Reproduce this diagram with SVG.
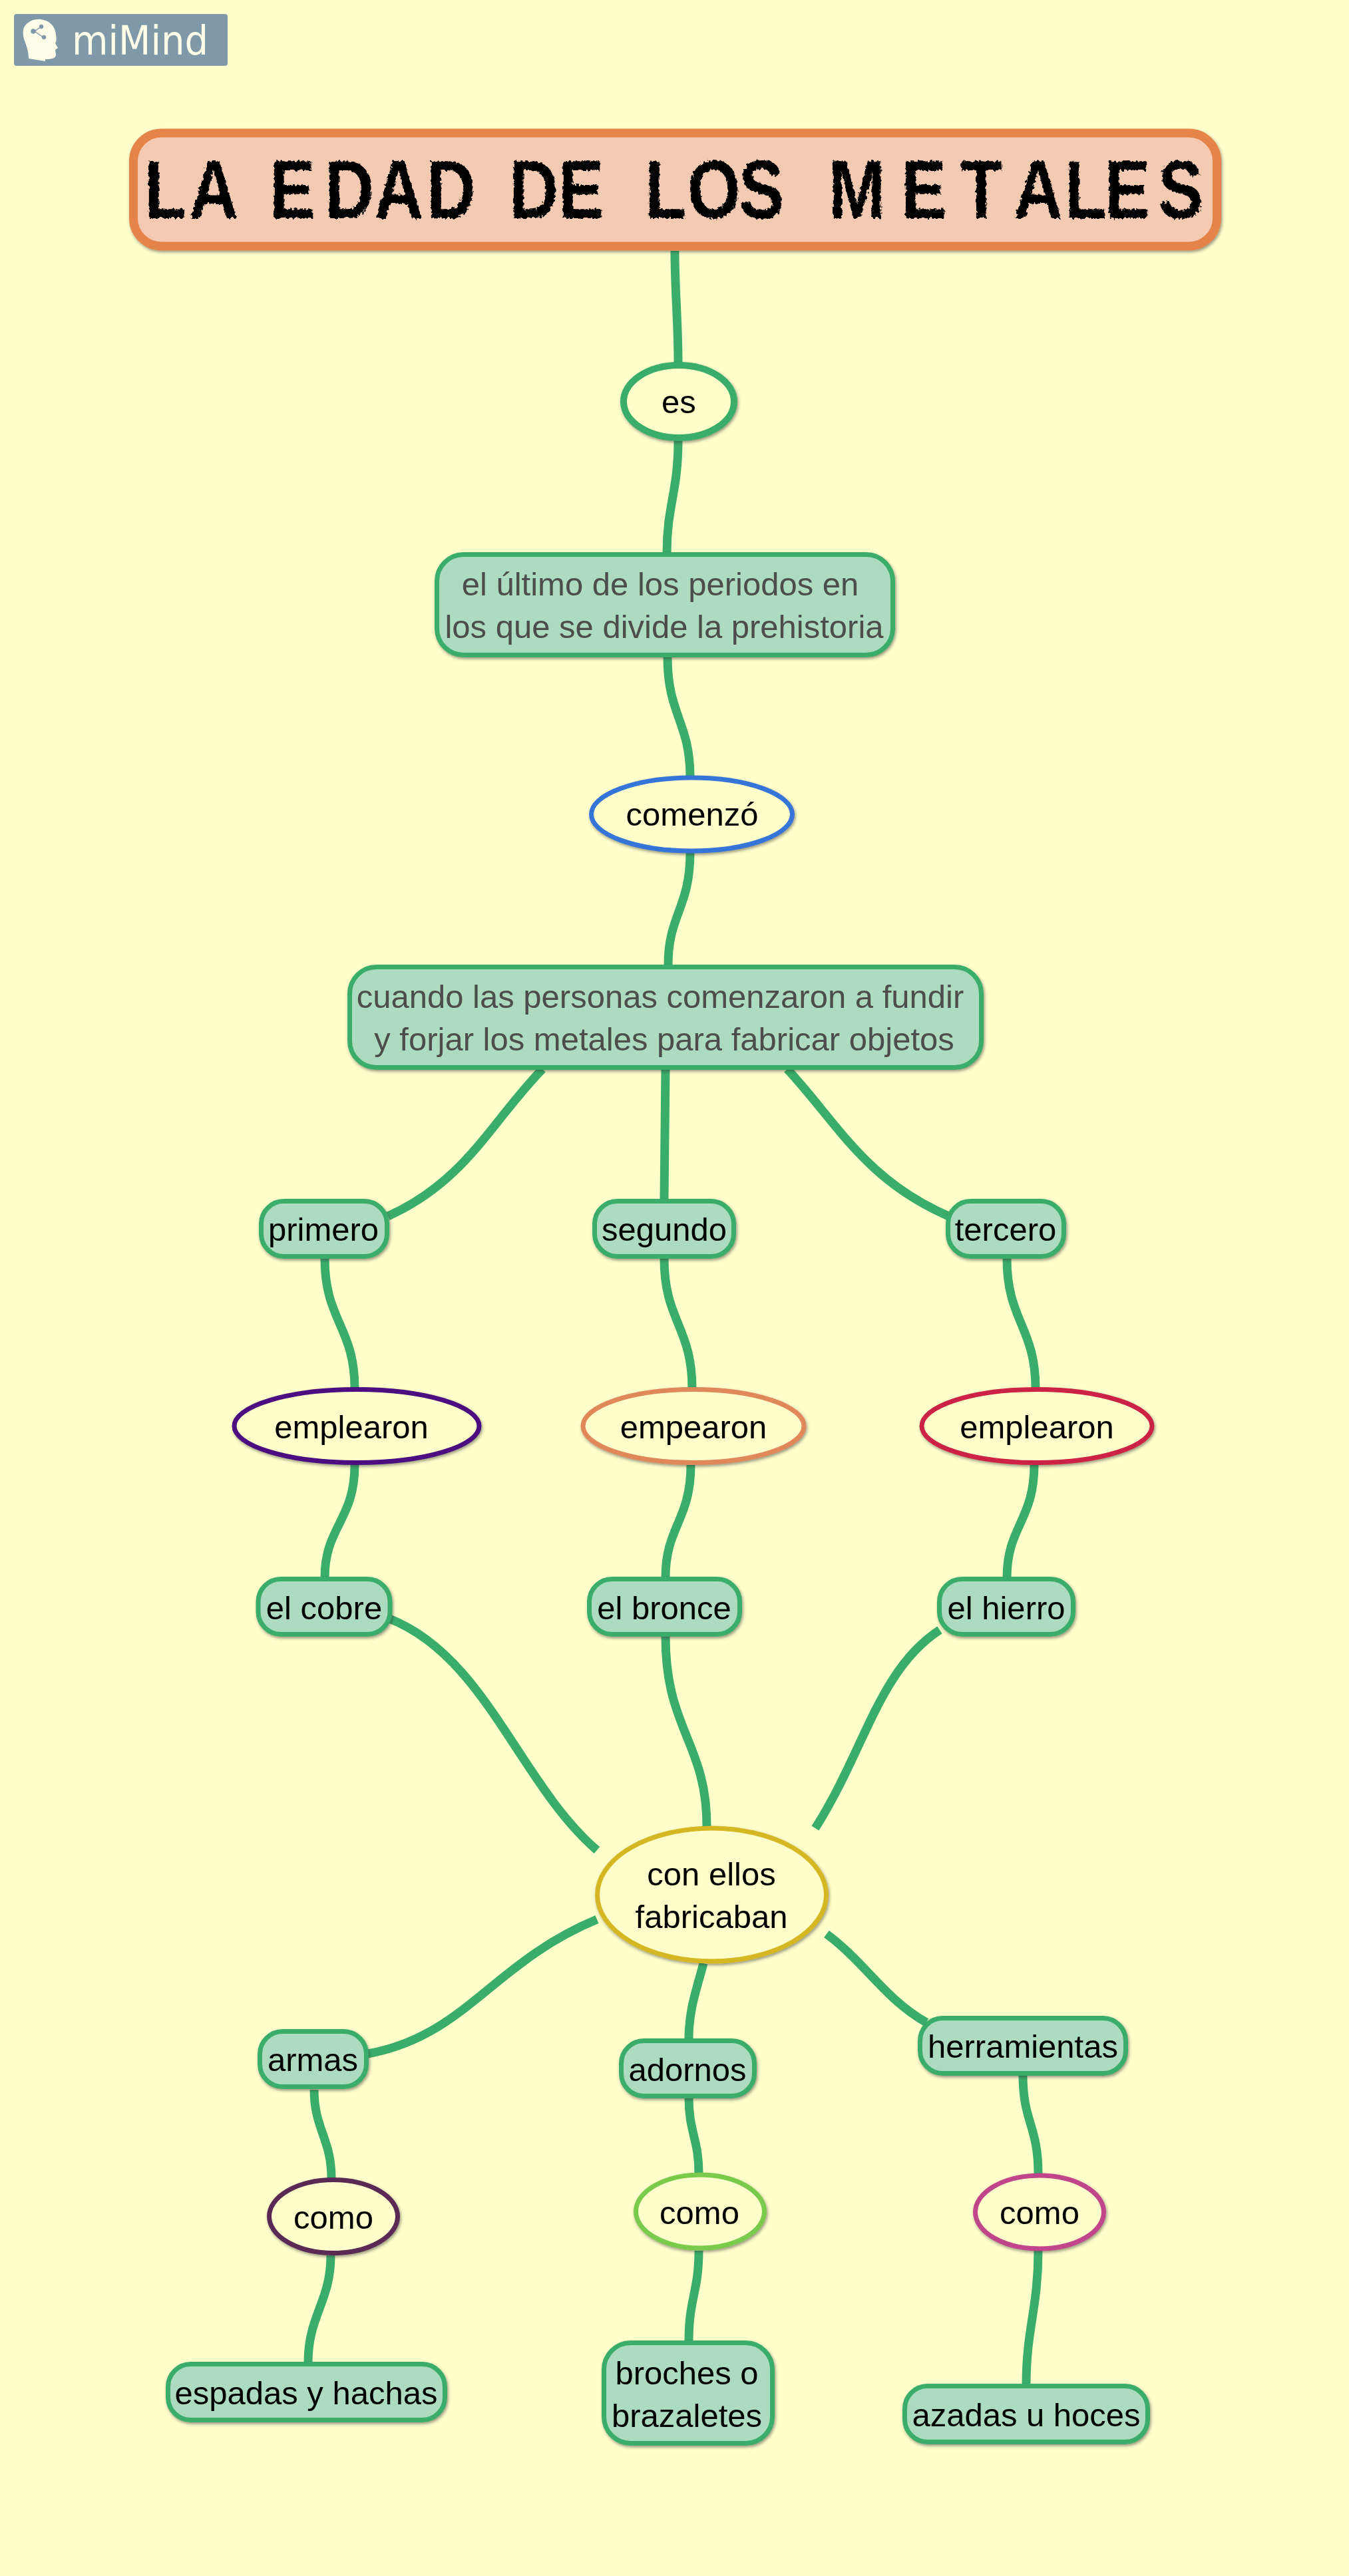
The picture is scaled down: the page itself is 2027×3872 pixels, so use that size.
<svg xmlns="http://www.w3.org/2000/svg" width="2027" height="3872" viewBox="0 0 2027 3872">
<defs>
<filter id="sh" x="-10%" y="-10%" width="120%" height="125%"><feDropShadow dx="1.500" dy="2.500" stdDeviation="2" flood-color="#333" flood-opacity="0.5"/></filter>
<filter id="rough" x="-2%" y="-5%" width="104%" height="110%"><feTurbulence type="fractalNoise" baseFrequency="0.2" numOctaves="2" seed="4"/><feDisplacementMap in="SourceGraphic" scale="8"/></filter>
</defs>
<style>
text{font-family:"Liberation Sans",Arial,sans-serif;font-size:49px;fill:#000;text-anchor:middle}
.g{fill:#4d4d4d}
.r{fill:#ADDBBF;stroke:#3BAD6B;stroke-width:7;filter:url(#sh)}
.e{fill:#FFFFCC;stroke-width:7;filter:url(#sh)}
#connectors path{fill:none;stroke:#3BAD6B;stroke-width:13}
</style>
<rect width="2027" height="3872" fill="#FFFFCC"/>
<g id="logo">
<rect x="21" y="21" width="321" height="78" rx="4" fill="#8099A8"/>
<path d="M58,29C72,29 83,38 84,52C85,58 85,62 83,65L87,72L83,75L84,82C84,87 80,88 73,89L68,89L68,92L43,88C43,80 41,72 38,64C35,58 34,50 35,44C38,35 47,29 58,29Z" fill="#FFFDE8"/>
<g stroke="#8099A8" stroke-width="1.500" fill="#8099A8"><path d="M62,40L52,47L65,56" fill="none"/><circle cx="62" cy="40" r="2.500"/><circle cx="50" cy="47" r="3"/><circle cx="66" cy="56" r="2.500"/></g>
<text x="108" y="82" textLength="205" lengthAdjust="spacingAndGlyphs" style="font-family:'DejaVu Sans',sans-serif;font-size:60px;text-anchor:start;fill:#FFFDE8">miMind</text>
</g>
<g id="connectors">
<path d="M1014,377C1014,440 1019,480 1019,546"/>
<path d="M1019,662C1019,740 1002,760 1002,832"/>
<path d="M1003,988C1003,1075 1037,1085 1037,1168"/>
<path d="M1037,1281C1037,1365 1004,1375 1004,1450"/>
<path d="M815,1607C735,1690 700,1775 583,1828"/>
<path d="M1000,1607L998,1802"/>
<path d="M1183,1607C1260,1690 1300,1775 1430,1830"/>
<path d="M488,1892C488,1985 533,1995 533,2087"/>
<path d="M533,2202C533,2285 488,2295 488,2371"/>
<path d="M998,1892C998,1985 1040,1995 1040,2087"/>
<path d="M1038,2202C1038,2285 1000,2295 1000,2371"/>
<path d="M1513,1892C1513,1985 1556,1995 1556,2087"/>
<path d="M1554,2202C1554,2285 1513,2295 1513,2371"/>
<path d="M585,2433C730,2490 780,2680 897,2781"/>
<path d="M1000,2460C1000,2600 1062,2620 1062,2745"/>
<path d="M1412,2450C1320,2510 1300,2630 1225,2748"/>
<path d="M897,2885C740,2950 700,3060 553,3087"/>
<path d="M1057,2951C1047,2990 1035,3020 1035,3064"/>
<path d="M1242,2907C1300,2950 1330,3005 1392,3040"/>
<path d="M472,3141C472,3200 498,3215 498,3274"/>
<path d="M497,3390C497,3460 463,3480 463,3551"/>
<path d="M1035,3153C1035,3205 1050,3215 1050,3267"/>
<path d="M1050,3383C1050,3445 1035,3455 1035,3519"/>
<path d="M1537,3119C1537,3190 1560,3195 1560,3267"/>
<path d="M1560,3383C1560,3470 1542,3500 1542,3585"/>
</g>
<g id="n-title"><rect x="200.500" y="200" width="1628" height="170" rx="42" fill="#F4CBB2" stroke="#E58449" stroke-width="13" filter="url(#sh)"/>
<text filter="url(#rough)" transform="scale(0.82,1)" y="328" x="264.600 346.300 440 493.900 595.100 685.400 781.700 900 932.900 1023.200 1100 1181.700 1259.800 1353.700 1480 1518.300 1651.200 1759.800 1857.300 1951.200 2024.400 2122" style="font-weight:bold;font-size:125px;text-anchor:start">LA EDAD DE LOS METALES</text></g>
<g id="n-es"><ellipse class="e" style="stroke-width:10" cx="1020" cy="603.500" rx="83" ry="54.500" stroke="#3BAD6B"/><text x="1020" y="621">es</text></g>
<g id="n-ultimo"><rect class="r" x="656.500" y="833.500" width="685" height="151" rx="40"/><text class="g" x="992" y="895">el último de los periodos en</text><text class="g" x="998" y="959">los que se divide la prehistoria</text></g>
<g id="n-comenzo"><ellipse class="e" cx="1039.500" cy="1224" rx="151" ry="55" stroke="#3574D8"/><text x="1040" y="1241">comenzó</text></g>
<g id="n-cuando"><rect class="r" x="525.500" y="1453.500" width="949" height="151" rx="40"/><text class="g" x="992" y="1515">cuando las personas comenzaron a fundir</text><text class="g" x="998" y="1579">y forjar los metales para fabricar objetos</text></g>
<g id="n-primero"><rect class="r" x="392.500" y="1805.500" width="189" height="83" rx="34"/><text x="486" y="1865">primero</text></g>
<g id="n-segundo"><rect class="r" x="893.500" y="1805.500" width="209" height="83" rx="34"/><text x="998" y="1865">segundo</text></g>
<g id="n-tercero"><rect class="r" x="1424.500" y="1805.500" width="174" height="83" rx="34"/><text x="1511" y="1865">tercero</text></g>
<g id="n-emp1"><ellipse class="e" cx="536" cy="2143.500" rx="184" ry="55" stroke="#4B0F7F"/><text x="528" y="2162">emplearon</text></g>
<g id="n-emp2"><ellipse class="e" cx="1042" cy="2143.500" rx="166" ry="55" stroke="#E0885A"/><text x="1042" y="2162">empearon</text></g>
<g id="n-emp3"><ellipse class="e" cx="1558" cy="2143.500" rx="173" ry="55" stroke="#CC2244"/><text x="1558" y="2162">emplearon</text></g>
<g id="n-cobre"><rect class="r" x="388" y="2373.500" width="198" height="83" rx="34"/><text x="487" y="2434">el cobre</text></g>
<g id="n-bronce"><rect class="r" x="885.500" y="2373.500" width="226" height="83" rx="34"/><text x="998" y="2434">el bronce</text></g>
<g id="n-hierro"><rect class="r" x="1411.500" y="2373.500" width="201" height="83" rx="34"/><text x="1512" y="2434">el hierro</text></g>
<g id="n-con"><ellipse class="e" cx="1069.500" cy="2848" rx="172" ry="100" stroke="#D4B722"/><text x="1069" y="2834">con ellos</text><text x="1069" y="2898">fabricaban</text></g>
<g id="n-armas"><rect class="r" x="390.500" y="3053.500" width="160" height="83" rx="34"/><text x="470" y="3113">armas</text></g>
<g id="n-adornos"><rect class="r" x="933.500" y="3067.500" width="200" height="83" rx="34"/><text x="1033" y="3128">adornos</text></g>
<g id="n-herr"><rect class="r" x="1382.500" y="3033.500" width="309" height="83" rx="34"/><text x="1537" y="3093">herramientas</text></g>
<g id="n-como1"><ellipse class="e" cx="501" cy="3331.500" rx="96.500" ry="55" stroke="#5A2A55"/><text x="501" y="3350">como</text></g>
<g id="n-como2"><ellipse class="e" cx="1052" cy="3324" rx="96.500" ry="55" stroke="#7ACB4B"/><text x="1051" y="3343">como</text></g>
<g id="n-como3"><ellipse class="e" cx="1562" cy="3325" rx="96.500" ry="55" stroke="#C0458A"/><text x="1562" y="3343">como</text></g>
<g id="n-espadas"><rect class="r" x="252.500" y="3553.500" width="416" height="84" rx="34"/><text x="460" y="3614">espadas y hachas</text></g>
<g id="n-broches"><rect class="r" x="907.500" y="3521.500" width="253" height="151" rx="40"/><text x="1032" y="3584">broches o</text><text x="1032" y="3648">brazaletes</text></g>
<g id="n-azadas"><rect class="r" x="1359.500" y="3586.500" width="365" height="84" rx="34"/><text x="1542" y="3647">azadas u hoces</text></g>
</svg>
